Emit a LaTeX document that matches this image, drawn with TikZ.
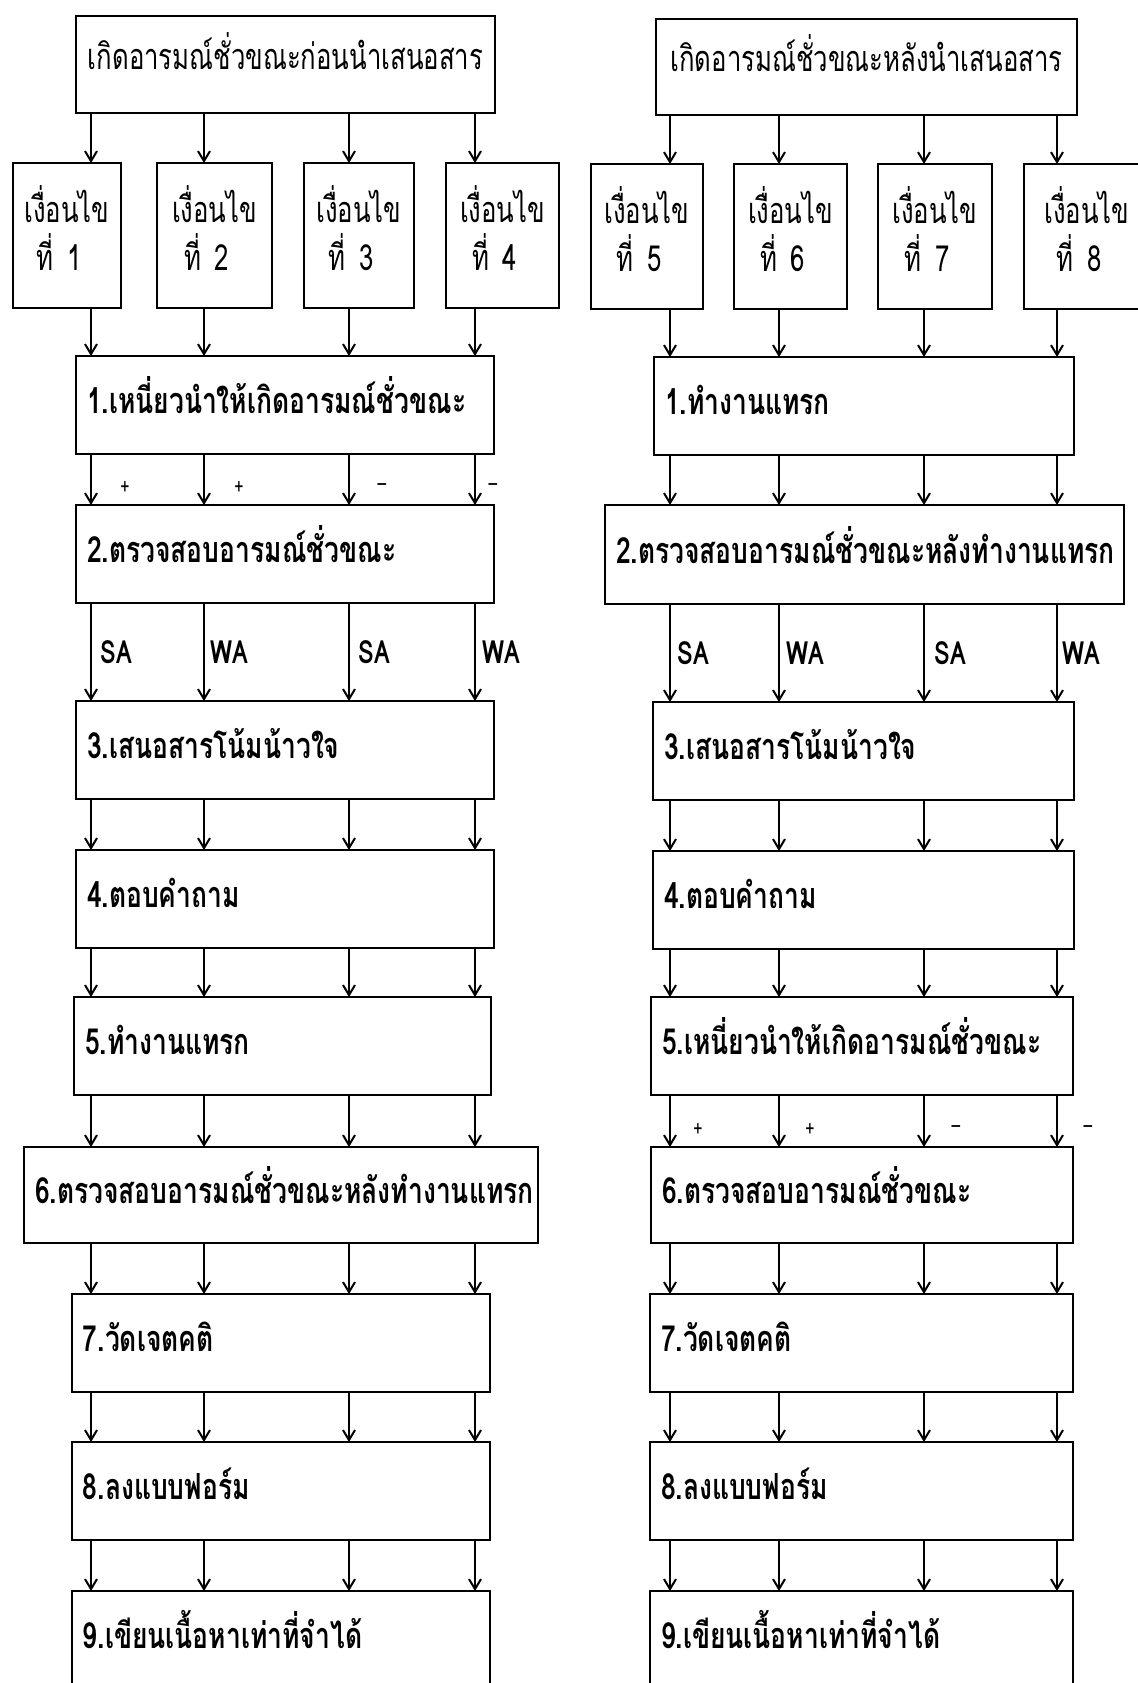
\documentclass[tikz,border=0pt]{standalone}
\usepackage{fontspec}
\usetikzlibrary{arrows.meta}
\newfontfamily\thaireg[Script=Thai,FakeStretch=0.715]{Loma}
\newfontfamily\thaib[Script=Thai,FakeStretch=0.735]{Loma}
\tikzset{
  frame/.style={draw, line width=1.4pt, anchor=north west, inner ysep=0pt, outer sep=0pt},
  stepbox/.style={frame, inner xsep=5.5pt, align=left, minimum height=49pt,
    text height=12pt, text depth=3.4pt,
    font=\thaib\bfseries\fontsize{18pt}{20pt}\selectfont},
  headbox/.style={frame, align=center, text height=10pt, text depth=5.4pt,
    font=\thaireg\fontsize{18pt}{20pt}\selectfont},
  condbox/.style={frame, inner xsep=0pt, align=left, minimum height=72.5pt,
    text depth=8pt, font=\thaireg\fontsize{18pt}{24pt}\selectfont},
  arr/.style={line width=1pt, -{Straight Barb[length=5pt,width=6pt]}},
  lbl/.style={inner sep=0pt, font=\thaib\bfseries\fontsize{16pt}{18pt}\selectfont},
  sgn/.style={inner sep=0pt, font=\thaireg\fontsize{11pt}{13pt}\selectfont},
}
\begin{document}
\begin{tikzpicture}[x=0.5pt,y=-0.5pt]
\useasboundingbox (0,0) rectangle (1138,1683);
% column coordinates
\coordinate (la) at (91,0);
\coordinate (lb) at (204,0);
\coordinate (lc) at (349,0);
\coordinate (ld) at (475,0);
\coordinate (ra) at (670,0);
\coordinate (rb) at (779,0);
\coordinate (rc) at (924,0);
\coordinate (rd) at (1057,0);

% ---------- left side ----------
\node[headbox, minimum width=209.5pt, minimum height=48.5pt] (T1) at (76,16) {เกิดอารมณ์ชั่วขณะก่อนนำเสนอสาร};
\node[condbox, minimum width=54pt] (K1) at (13,163) {เงื่อนไข\\\hspace*{6pt}ที่\hspace{7pt}1};
\node[condbox, minimum width=57.5pt] (K2) at (157,163) {เงื่อนไข\\\hspace*{6pt}ที่\hspace{7pt}2};
\node[condbox, minimum width=55pt] (K3) at (304,163) {เงื่อนไข\\\hspace*{6pt}ที่\hspace{7pt}3};
\node[condbox, minimum width=56.5pt] (K4) at (446,163) {เงื่อนไข\\\hspace*{6pt}ที่\hspace{7pt}4};
\node[stepbox, text width=198pt] (S1) at (76,356) {1.เหนี่ยวนำให้เกิดอารมณ์ชั่วขณะ};
\node[stepbox, text width=198pt] (S2) at (76,505) {2.ตรวจสอบอารมณ์ชั่วขณะ};
\node[stepbox, text width=198pt] (S3) at (76,701) {3.เสนอสารโน้มน้าวใจ};
\node[stepbox, text width=198pt] (S4) at (76,850) {4.ตอบคำถาม};
\node[stepbox, text width=197.5pt] (S5) at (74,997) {5.ทำงานแทรก};
\node[stepbox, text width=246pt, minimum height=48pt] (S6) at (24,1147) {6.ตรวจสอบอารมณ์ชั่วขณะหลังทำงานแทรก};
\node[stepbox, text width=198pt] (S7) at (72,1294) {7.วัดเจตคติ};
\node[stepbox, text width=198pt] (S8) at (72,1442) {8.ลงแบบฟอร์ม};
\node[stepbox, text width=198pt] (S9) at (72,1591) {9.เขียนเนื้อหาเท่าที่จำได้};

\foreach \i/\c in {1/la,2/lb,3/lc,4/ld}{
  \draw[arr] (T1.south -| \c) -- (K\i.north -| \c);
  \draw[arr] (K\i.south -| \c) -- (S1.north -| \c);
}
\foreach \c in {la,lb,lc,ld}{
  \foreach \a/\b in {S1/S2,S2/S3,S3/S4,S4/S5,S5/S6,S6/S7,S7/S8,S8/S9}{
    \draw[arr] (\a.south -| \c) -- (\b.north -| \c);
  }
}
\node[sgn] (lp1) at (125,488) {+};
\node[sgn] (lp2) at (239,488) {+};
\node[sgn] (lm1) at (382,488) {–};
\node[sgn] (lm2) at (493,488) {–};
\node[lbl] (lsa1) at (116,652) {SA};
\node[lbl] (lwa1) at (229,652) {WA};
\node[lbl] (lsa2) at (374,652) {SA};
\node[lbl] (lwa2) at (501,652) {WA};

% ---------- right side ----------
\node[headbox, minimum width=210.5pt, minimum height=48pt] (T2) at (656,19) {เกิดอารมณ์ชั่วขณะหลังนำเสนอสาร};
\node[condbox, minimum width=56pt] (K5) at (591,164) {เงื่อนไข\\\hspace*{6pt}ที่\hspace{7pt}5};
\node[condbox, minimum width=56.5pt] (K6) at (734,164) {เงื่อนไข\\\hspace*{6pt}ที่\hspace{7pt}6};
\node[condbox, minimum width=57pt] (K7) at (878,164) {เงื่อนไข\\\hspace*{6pt}ที่\hspace{7pt}7};
\node[condbox, minimum width=63pt] (K8) at (1024,164) {เงื่อนไข\\\hspace*{6pt}ที่\hspace{7pt}8};
\node[stepbox, text width=199pt] (R1) at (654,357) {1.ทำงานแทรก};
\node[stepbox, text width=248.5pt, minimum height=49.5pt] (R2) at (605,505) {2.ตรวจสอบอารมณ์ชั่วขณะหลังทำงานแทรก};
\node[stepbox, text width=199.5pt] (R3) at (653,702) {3.เสนอสารโน้มน้าวใจ};
\node[stepbox, text width=199.5pt] (R4) at (653,851) {4.ตอบคำถาม};
\node[stepbox, text width=200pt] (R5) at (651,997) {5.เหนี่ยวนำให้เกิดอารมณ์ชั่วขณะ};
\node[stepbox, text width=200pt, minimum height=48pt] (R6) at (651,1147) {6.ตรวจสอบอารมณ์ชั่วขณะ};
\node[stepbox, text width=200.5pt] (R7) at (650,1294) {7.วัดเจตคติ};
\node[stepbox, text width=200.5pt] (R8) at (650,1442) {8.ลงแบบฟอร์ม};
\node[stepbox, text width=200.5pt] (R9) at (650,1591) {9.เขียนเนื้อหาเท่าที่จำได้};

\foreach \i/\c in {5/ra,6/rb,7/rc,8/rd}{
  \draw[arr] (T2.south -| \c) -- (K\i.north -| \c);
  \draw[arr] (K\i.south -| \c) -- (R1.north -| \c);
}
\foreach \c in {ra,rb,rc,rd}{
  \foreach \a/\b in {R1/R2,R2/R3,R3/R4,R4/R5,R5/R6,R6/R7,R7/R8,R8/R9}{
    \draw[arr] (\a.south -| \c) -- (\b.north -| \c);
  }
}
\node[lbl] (rsa1) at (693,653) {SA};
\node[lbl] (rwa1) at (805,653) {WA};
\node[lbl] (rsa2) at (950,653) {SA};
\node[lbl] (rwa2) at (1081,653) {WA};
\node[sgn] (rp1) at (698,1130) {+};
\node[sgn] (rp2) at (810,1130) {+};
\node[sgn] (rm1) at (956,1130) {–};
\node[sgn] (rm2) at (1088,1130) {–};
\end{tikzpicture}
\end{document}
